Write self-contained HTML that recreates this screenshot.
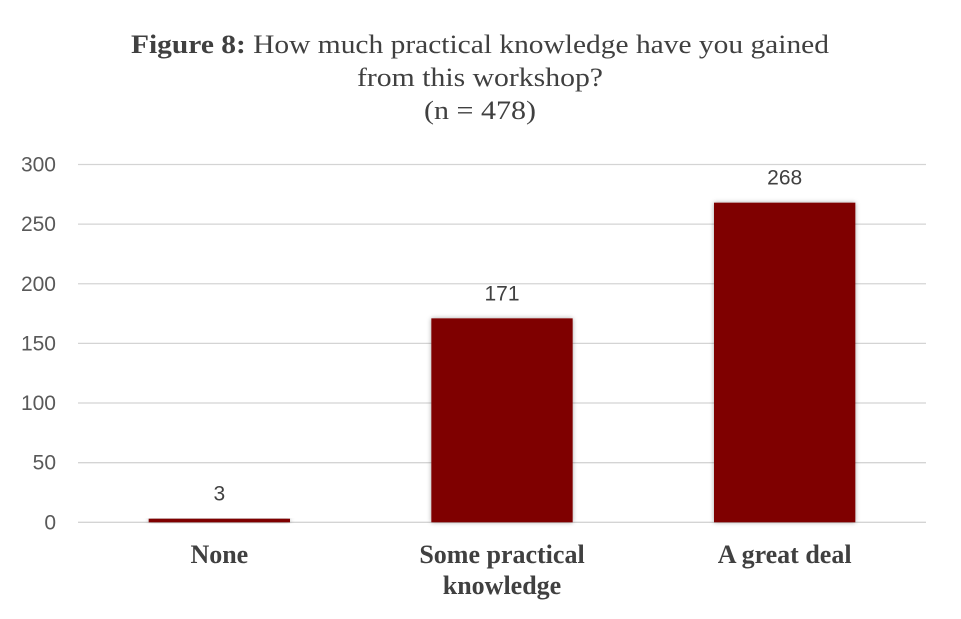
<!DOCTYPE html>
<html><head><meta charset="utf-8"><style>
body{margin:0;background:#fff;width:961px;height:619px;overflow:hidden}
svg{display:block}
</style></head><body>
<svg id="chart" width="961" height="619" xmlns="http://www.w3.org/2000/svg">
<defs><filter id="sh" x="-20%" y="-20%" width="140%" height="140%"><feDropShadow dx="0" dy="0" stdDeviation="2.5" flood-color="#000" flood-opacity="0.35"/></filter></defs>
<g font-family="'Liberation Serif',serif" font-size="26" fill="#404040" text-anchor="middle">
<text x="480" y="53" textLength="698" lengthAdjust="spacingAndGlyphs"><tspan font-weight="bold">Figure 8:</tspan> How much practical knowledge have you gained</text>
<text x="480" y="86" textLength="246" lengthAdjust="spacingAndGlyphs">from this workshop?</text>
<text x="480" y="119" textLength="112" lengthAdjust="spacingAndGlyphs">(n = 478)</text>
</g>
<g id="grid"></g><g id="bars"></g><g id="labels"></g>
</svg>
<script>
const categories=[["None"],["Some practical","knowledge"],["A great deal"]];
const values=[3,171,268];
const ticks=[0,50,100,150,200,250,300];
const NS="http://www.w3.org/2000/svg";
const L=78,R=926,Y0=522.3,Y300=164.5;
const y=v=>Y0-(v/300)*(Y0-Y300);
const bw=(R-L)/categories.length;
const xc=i=>L+bw*(i+0.5);
function mk(t,a,p){const e=document.createElementNS(NS,t);for(const k in a)e.setAttribute(k,a[k]);p.appendChild(e);return e;}
const g=document.getElementById('grid'),b=document.getElementById('bars'),lb=document.getElementById('labels');
ticks.forEach(t=>{
 const ln=mk('line',{x1:L,x2:R,y1:y(t),y2:y(t),stroke:'#d4d4d4','stroke-width':1.3},g);
 
 
 const tx=mk('text',{x:56,y:y(t)+7,'text-anchor':'end','font-family':"'Liberation Sans',sans-serif",'font-size':21,fill:'#595959'},g);
 tx.textContent=t;
 
 
});
values.forEach((v,i)=>{
 const w=bw*0.5;
 const r=mk('rect',{x:xc(i)-w/2,y:y(v),width:w,height:Y0-y(v),fill:'#7f0000',filter:'url(#sh)'},b);
 
 
 const t=mk('text',{x:xc(i),y:y(v)-18,'text-anchor':'middle','font-family':"'Liberation Sans',sans-serif",'font-size':21,fill:'#404040'},lb);
 t.textContent=v;
 
 
 categories[i].forEach((s,j)=>{
  const c=mk('text',{x:xc(i),y:563+j*31,'text-anchor':'middle','font-family':"'Liberation Serif',serif",'font-size':26,'font-weight':'bold',fill:'#404040'},lb);
  c.textContent=s;
  
  
 });
});
</script>
</body></html>
